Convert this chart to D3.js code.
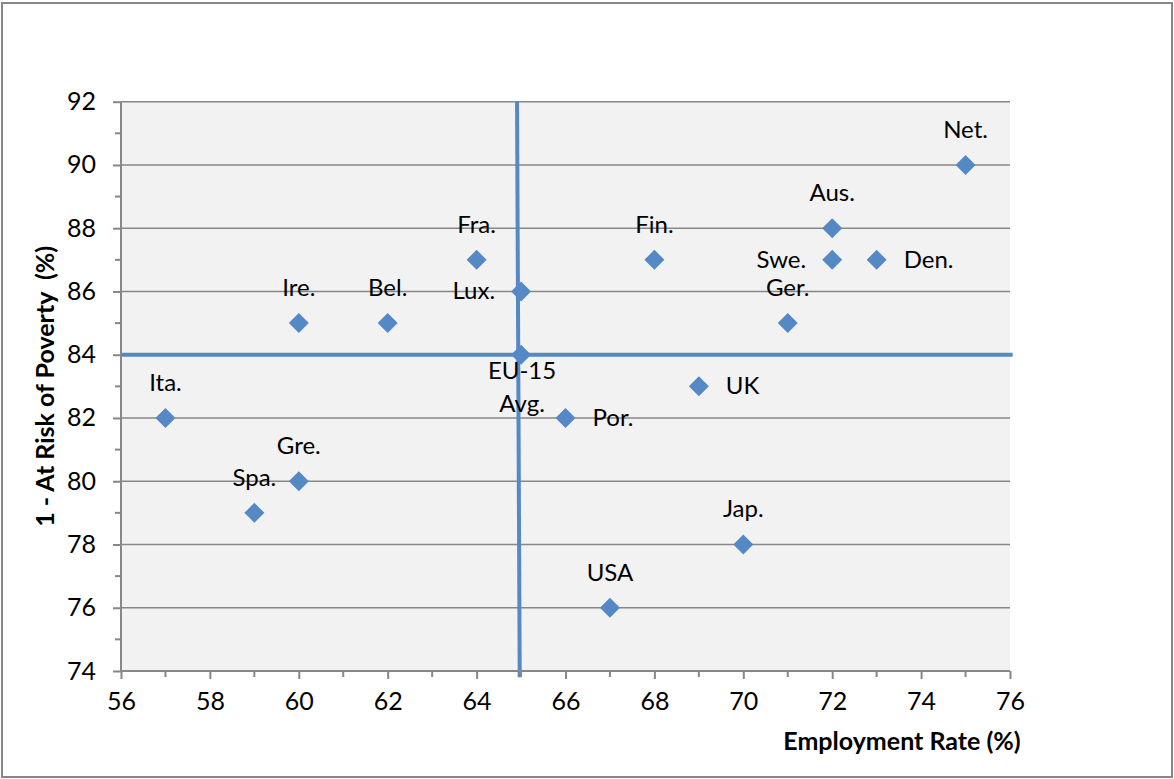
<!DOCTYPE html>
<html>
<head>
<meta charset="utf-8">
<script src="https://cdn.jsdelivr.net/npm/d3@7"></script>
<style>
  html, body { margin: 0; padding: 0; background: #fff; }
  svg { display: block; }
  text { font-family: Lato, "Open Sans", sans-serif; fill: #000; }
</style>
</head>
<body>
<svg id="chart" width="1174" height="779"></svg>
<script>
// ---- data ----
const countries  = ["Net.", "Aus.", "Swe.", "Den.", "Ger.", "Fin.", "Fra.", "Lux.", "Ire.", "Bel.", "EU-15 Avg.", "UK", "Por.", "Ita.", "Gre.", "Spa.", "Jap.", "USA"];
const employment = [75, 72, 72, 73, 71, 68, 64, 65, 60, 62, 65, 69, 66, 57, 60, 59, 70, 67];
const nonPoverty = [90, 88, 87, 87, 85, 87, 87, 86, 85, 85, 84, 83, 82, 82, 80, 79, 78, 76];
const xTicks = [56, 58, 60, 62, 64, 66, 68, 70, 72, 74, 76];
const yTicks = [74, 76, 78, 80, 82, 84, 86, 88, 90, 92];
// reference lines (EU-15 average)
const vLineX = [64.91, 64.97];
const vLineY = [92, 73.8];
const hLineX = [56, 76.06];
const hLineY = [84, 84];
// label placement per point
const labelSide = ["top","top","left","right","top","top","top","left","top","top","bottom","right","right","top","top","top","top","top"];

// ---- layout ----
const svg = d3.select("#chart");
const L = 121, R = 1010, T = 101.7, B = 671;
const x = d3.scaleLinear().domain([56, 76]).range([L, R]);
const y = d3.scaleLinear().domain([74, 92]).range([B, T]);
const blue = "#5589c6";
const gray = "#878787";
const tickFont = 25, labelFont = 24, titleFont = 25;

// outer border
svg.append("rect").attr("x", 2).attr("y", 3).attr("width", 1170).attr("height", 774)
  .attr("fill", "#fff").attr("stroke", gray).attr("stroke-width", 2);

// plot background
svg.append("rect").attr("x", L).attr("y", T).attr("width", R - L).attr("height", B - T).attr("fill", "#f2f2f2");

// gridlines
svg.append("g").selectAll("line").data(yTicks).join("line")
  .attr("x1", L).attr("x2", R).attr("y1", d => y(d)).attr("y2", d => y(d))
  .attr("stroke", gray).attr("stroke-width", 1.5);

// reference lines
const line = d3.line().x(d => x(d[0])).y(d => y(d[1]));
svg.append("path").datum(d3.zip(vLineX, vLineY)).attr("d", line)
  .attr("fill", "none").attr("stroke", blue).attr("stroke-width", 4);
svg.append("path").datum(d3.zip(hLineX, hLineY)).attr("d", line)
  .attr("fill", "none").attr("stroke", blue).attr("stroke-width", 4);

// axes
const xMinor = d3.range(57, 76, 2);
const yMinor = d3.range(75, 92, 2);
const xAxis = svg.append("g").attr("transform", `translate(0,${B})`)
  .call(d3.axisBottom(x).tickValues(xTicks).tickSize(8).tickPadding(13).tickFormat(d3.format("d")));
xAxis.select(".domain").attr("stroke", gray).attr("stroke-width", 2).attr("d", `M${L},0H${R}`);
xAxis.selectAll(".tick line").attr("stroke", gray).attr("stroke-width", 2);
xAxis.selectAll(".tick text").attr("font-size", tickFont).attr("font-family", "Lato").attr("fill", "#000");
svg.append("g").selectAll("line").data(xMinor).join("line")
  .attr("x1", d => x(d)).attr("x2", d => x(d)).attr("y1", B).attr("y2", B + 6)
  .attr("stroke", gray).attr("stroke-width", 2);

const yAxis = svg.append("g").attr("transform", `translate(${L},0)`)
  .call(d3.axisLeft(y).tickValues(yTicks).tickSize(8).tickPadding(17).tickFormat(d3.format("d")));
yAxis.select(".domain").attr("stroke", gray).attr("stroke-width", 2).attr("d", `M0,${T}V${B}`);
yAxis.selectAll(".tick line").attr("stroke", gray).attr("stroke-width", 2);
yAxis.selectAll(".tick text").attr("font-size", tickFont).attr("font-family", "Lato").attr("fill", "#000");
svg.append("g").selectAll("line").data(yMinor).join("line")
  .attr("x1", L - 6).attr("x2", L).attr("y1", d => y(d)).attr("y2", d => y(d))
  .attr("stroke", gray).attr("stroke-width", 2);

// axis titles
svg.append("text").attr("x", 902).attr("y", 750).attr("text-anchor", "middle")
  .attr("font-size", titleFont).attr("font-weight", "bold").text("Employment Rate (%)");
svg.append("text").attr("transform", `translate(54,${(T + B) / 2}) rotate(-90)`).attr("text-anchor", "middle")
  .attr("font-size", titleFont).attr("font-weight", "bold").attr("xml:space", "preserve").text("1 - At Risk of Poverty  (%)");

// points
const pts = countries.map((c, i) => ({ c, ex: employment[i], np: nonPoverty[i], side: labelSide[i] }));
const r = 10;
svg.append("g").selectAll("path").data(pts).join("path")
  .attr("transform", d => `translate(${x(d.ex)},${y(d.np)})`)
  .attr("d", `M0,${-r}L${r},0L0,${r}L${-r},0Z`)
  .attr("fill", blue);

// labels
const lg = svg.append("g");
pts.forEach(d => {
  const px = x(d.ex), py = y(d.np);
  if (d.side === "top") {
    lg.append("text").attr("x", px).attr("y", py - 27).attr("text-anchor", "middle").attr("font-size", labelFont).text(d.c);
  } else if (d.side === "left") {
    lg.append("text").attr("x", px - 26).attr("y", py + 8).attr("text-anchor", "end").attr("font-size", labelFont).text(d.c);
  } else if (d.side === "right") {
    lg.append("text").attr("x", px + 27).attr("y", py + 8).attr("text-anchor", "start").attr("font-size", labelFont).text(d.c);
  } else {
    const parts = d.c.split(" ");
    parts.forEach((p, k) => {
      lg.append("text").attr("x", px + 1).attr("y", py + 24 + k * 33.5).attr("text-anchor", "middle").attr("font-size", labelFont).text(p);
    });
  }
});
</script>
</body>
</html>
